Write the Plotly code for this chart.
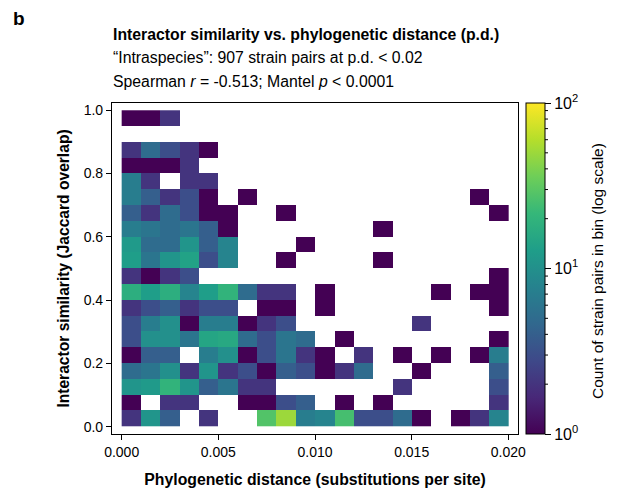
import math
import plotly.graph_objects as go

# Bin centres (bin width 0.001 in p.d., 0.05 in Jaccard overlap)
x_centers = [0.0005, 0.0015, 0.0025, 0.0035, 0.0045, 0.0055, 0.0065, 0.0075, 0.0085, 0.0095,
             0.0105, 0.0115, 0.0125, 0.0135, 0.0145, 0.0155, 0.0165, 0.0175, 0.0185, 0.0195]
y_centers = [0.025, 0.075, 0.125, 0.175, 0.225, 0.275, 0.325, 0.375, 0.425, 0.475,
             0.525, 0.575, 0.625, 0.675, 0.725, 0.775, 0.825, 0.875, 0.925, 0.975]

# Counts of strain pairs per bin; rows from bottom (similarity 0.0) to top (1.0), 0 = empty
counts = [
    [2, 11, 4, 0, 2, 0, 0, 28, 50, 7, 8, 25, 3, 3, 5, 1, 0, 1, 2, 8],
    [1, 0, 2, 2, 0, 0, 1, 1, 3, 4, 0, 1, 0, 1, 0, 0, 0, 0, 0, 2],
    [11, 12, 20, 11, 4, 6, 2, 2, 0, 0, 0, 0, 0, 0, 2, 0, 0, 0, 0, 3],
    [5, 6, 10, 2, 11, 2, 3, 1, 4, 3, 1, 2, 5, 0, 0, 1, 0, 0, 0, 4],
    [1, 4, 4, 0, 7, 10, 1, 3, 6, 2, 1, 0, 2, 0, 1, 0, 1, 0, 1, 7],
    [3, 10, 10, 6, 15, 16, 5, 3, 6, 5, 0, 1, 0, 0, 0, 0, 0, 0, 0, 1],
    [3, 7, 10, 1, 7, 7, 1, 2, 3, 0, 0, 0, 0, 0, 0, 2, 0, 0, 0, 0],
    [2, 3, 4, 2, 3, 3, 0, 1, 1, 0, 1, 0, 0, 0, 0, 0, 0, 0, 0, 1],
    [18, 13, 18, 8, 13, 20, 5, 2, 2, 0, 1, 0, 0, 0, 0, 0, 1, 0, 1, 1],
    [2, 1, 2, 3, 0, 0, 0, 0, 0, 0, 0, 0, 0, 0, 0, 0, 0, 0, 0, 1],
    [13, 6, 11, 14, 3, 8, 0, 0, 1, 0, 0, 0, 0, 1, 0, 0, 0, 0, 0, 0],
    [12, 5, 5, 11, 4, 8, 0, 0, 0, 1, 0, 0, 0, 0, 0, 0, 0, 0, 0, 0],
    [7, 6, 5, 6, 4, 1, 0, 0, 0, 0, 0, 0, 0, 1, 0, 0, 0, 0, 0, 0],
    [4, 2, 5, 3, 1, 1, 0, 0, 1, 0, 0, 0, 0, 0, 0, 0, 0, 0, 0, 1],
    [7, 4, 2, 3, 1, 0, 1, 0, 0, 0, 0, 0, 0, 0, 0, 0, 0, 0, 1, 0],
    [7, 2, 0, 2, 2, 0, 0, 0, 0, 0, 0, 0, 0, 0, 0, 0, 0, 0, 0, 0],
    [1, 1, 1, 2, 0, 0, 0, 0, 0, 0, 0, 0, 0, 0, 0, 0, 0, 0, 0, 0],
    [2, 5, 3, 2, 1, 0, 0, 0, 0, 0, 0, 0, 0, 0, 0, 0, 0, 0, 0, 0],
    [0, 0, 0, 0, 0, 0, 0, 0, 0, 0, 0, 0, 0, 0, 0, 0, 0, 0, 0, 0],
    [1, 1, 2, 0, 0, 0, 0, 0, 0, 0, 0, 0, 0, 0, 0, 0, 0, 0, 0, 0],
]

x_tickvals = [0.0, 0.005, 0.010, 0.015, 0.020]
x_ticktext = ["0.000", "0.005", "0.010", "0.015", "0.020"]
y_tickvals = [0.0, 0.2, 0.4, 0.6, 0.8, 1.0]
y_ticktext = ["0.0", "0.2", "0.4", "0.6", "0.8", "1.0"]
cb_tickvals = [0, 1, 2]
cb_ticktext = ["10<sup>0</sup>", "10<sup>1</sup>", "10<sup>2</sup>"]

z = [[math.log10(v) if v > 0 else None for v in row] for row in counts]

FONT = "Liberation Sans, Arial, Helvetica, sans-serif"

# page has an 8px body margin; plot area should sit at page x 112..518, y 103..434
PW, PH = 406, 331

fig = go.Figure()
fig.add_trace(go.Heatmap(
    x=x_centers, y=y_centers, z=z,
    colorscale="Viridis", zmin=0, zmax=2,
    customdata=counts,
    hovertemplate="p.d. %{x}<br>similarity %{y}<br>count %{customdata}<extra></extra>",
    colorbar=dict(
        x=1.0, xanchor="left", xpad=8, xref="paper",
        y=0.5, yanchor="middle", len=1.0, lenmode="fraction", ypad=0,
        thickness=19, outlinewidth=1, outlinecolor="black",
        tickvals=cb_tickvals, ticktext=cb_ticktext,
        ticks="outside", ticklen=6, tickwidth=1, tickcolor="black",
        tickfont=dict(family=FONT, size=16, color="black"),
    ),
))

# minor ticks on colorbar (log scale)
shapes = []
cb_x0 = 1.0 + (8 + 19) / PW
for dec in [0, 1]:
    for k in range(2, 10):
        yy = (dec + math.log10(k)) / 2
        shapes.append(dict(type="line", xref="paper", yref="paper",
                           x0=cb_x0, x1=cb_x0 + 3 / PW, y0=yy, y1=yy,
                           line=dict(color="black", width=1)))

fig.update_layout(
    width=621, height=488,
    margin=dict(l=104, r=111, t=95, b=62, autoexpand=False),
    paper_bgcolor="white", plot_bgcolor="white",
    font=dict(family=FONT, size=14, color="black"),
    shapes=shapes,
    xaxis=dict(
        range=[-0.0005, 0.0205], tickvals=x_tickvals, ticktext=x_ticktext,
        ticks="outside", ticklen=5, tickwidth=1, tickcolor="black",
        showline=True, linecolor="black", linewidth=1.2, mirror=True,
        showgrid=False, zeroline=False,
        tickfont=dict(family=FONT, size=14),
        title=dict(text="<b>Phylogenetic distance (substitutions per site)</b>",
                   font=dict(family=FONT, size=15.8), standoff=15),
    ),
    yaxis=dict(
        range=[-0.023, 1.023], tickvals=y_tickvals, ticktext=y_ticktext,
        ticks="outside", ticklen=5, tickwidth=1, tickcolor="black",
        showline=True, linecolor="black", linewidth=1.2, mirror=True,
        showgrid=False, zeroline=False,
        tickfont=dict(family=FONT, size=14),
        title=dict(text="<b>Interactor similarity (Jaccard overlap)</b>",
                   font=dict(family=FONT, size=15.6), standoff=10),
    ),
)

def px_to_paper_x(px):
    return (px - 112) / PW

def px_to_paper_y(py):
    return (434 - py) / PH

fig.add_annotation(text="<b>b</b>", x=px_to_paper_x(11), y=px_to_paper_y(18),
                   xref="paper", yref="paper", xanchor="left", yanchor="middle",
                   showarrow=False, font=dict(family=FONT, size=19))
fig.add_annotation(text="<b>Interactor similarity vs. phylogenetic distance (p.d.)</b>",
                   x=px_to_paper_x(111), y=px_to_paper_y(35), xref="paper", yref="paper",
                   xanchor="left", yanchor="middle", showarrow=False,
                   font=dict(family=FONT, size=15.8))
fig.add_annotation(text="\u201cIntraspecies\u201d: 907 strain pairs at p.d. < 0.02",
                   x=px_to_paper_x(111), y=px_to_paper_y(58), xref="paper", yref="paper",
                   xanchor="left", yanchor="middle", showarrow=False,
                   font=dict(family=FONT, size=15.8))
fig.add_annotation(text="Spearman <i>r</i> = -0.513; Mantel <i>p</i> < 0.0001",
                   x=px_to_paper_x(111), y=px_to_paper_y(81), xref="paper", yref="paper",
                   xanchor="left", yanchor="middle", showarrow=False,
                   font=dict(family=FONT, size=15.8))
fig.add_annotation(text="Count of strain pairs in bin (log scale)",
                   x=px_to_paper_x(597), y=px_to_paper_y(271), xref="paper", yref="paper",
                   xanchor="center", yanchor="middle", textangle=-90, showarrow=False,
                   font=dict(family=FONT, size=15.5))

fig.write_html("out.html")
